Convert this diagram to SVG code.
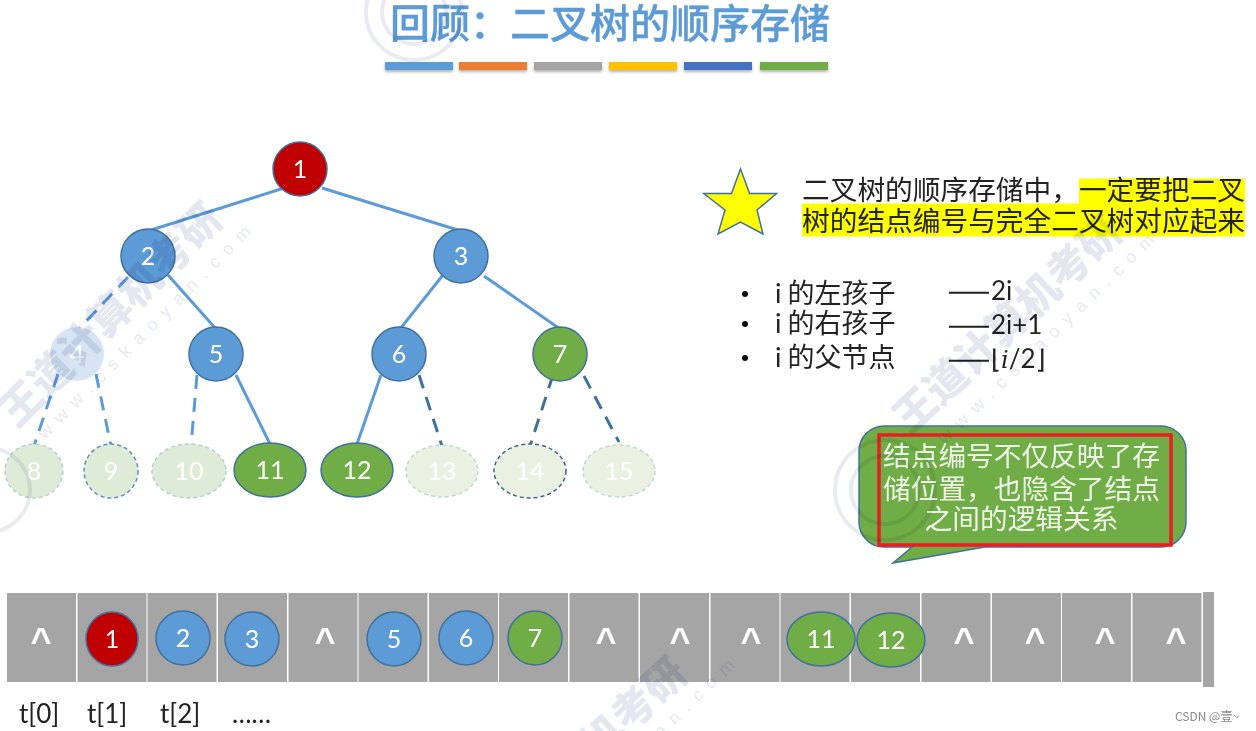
<svg xmlns="http://www.w3.org/2000/svg" width="1256" height="731" viewBox="0 0 1256 731">
<style>
text{font-family:"Noto Sans CJK SC","Noto Sans",sans-serif}
.lat{font-family:Lato,"Noto Sans",sans-serif}
.num{font-family:Lato,"Noto Sans",sans-serif;font-size:25px;fill:#fff;text-anchor:middle}
.blue{fill:#5b9bd5;stroke:#41719c;stroke-width:1.5}
.red{fill:#c00000;stroke:#41719c;stroke-width:1.5}
.green{fill:#70ad47;stroke:#41719c;stroke-width:1.5}
.s{fill:none;stroke:#5b9bd5;stroke-width:3}
.d{fill:none;stroke:#5b9bd5;stroke-width:3;stroke-dasharray:14 9}
.dk{fill:none;stroke:#41719c;stroke-width:3;stroke-dasharray:14 9}
.cell{fill:#a5a5a5}
.car{font-family:"Liberation Sans",sans-serif;font-weight:700;font-size:36px;fill:#fff;text-anchor:middle}
.body{font-size:27.7px;fill:#222}
.li{font-size:27px;fill:#222}
.da{font-size:25px;fill:#222;stroke:#222;stroke-width:.5;letter-spacing:1px}
.la{font-family:Lato,sans-serif;font-size:26px;fill:#222}
.co{font-size:27.7px;fill:#eef4e8;text-anchor:middle}
.wm{font-size:42px;font-weight:900;fill:#e4e7f0}
.wu{font-family:"Liberation Sans",sans-serif;font-size:18px;letter-spacing:9px;fill:#e6e9f1}
.st{fill:none;stroke:#e9ebf1;stroke-width:4}
</style>
<defs>
<filter id="soft" x="0" y="0" width="100%" height="100%"><feGaussianBlur stdDeviation="0.45"/></filter>
<filter id="sh" x="-10%" y="-30%" width="120%" height="190%"><feDropShadow dx="0" dy="2" stdDeviation="1.5" flood-color="#000" flood-opacity=".3"/></filter>
</defs>
<rect width="1256" height="731" fill="#fff"/>
<g filter="url(#soft)">
<g id="title">
<text x="390" y="38" font-size="40" font-weight="500" fill="#5b9bd5" stroke="#5b9bd5" stroke-width=".4">回顾：二叉树的顺序存储</text>
<g filter="url(#sh)">
<rect x="385" y="62" width="68" height="8" fill="#5b9bd5"/>
<rect x="459" y="62" width="68" height="8" fill="#ed7d31"/>
<rect x="534" y="62" width="68" height="8" fill="#a5a5a5"/>
<rect x="609" y="62" width="68" height="8" fill="#ffc000"/>
<rect x="684" y="62" width="68" height="8" fill="#4472c4"/>
<rect x="760" y="62" width="68" height="8" fill="#70ad47"/>
</g>
</g>
<g id="connectors">
<line class="s" x1="284" y1="188" x2="148" y2="231"/>
<line class="s" x1="322" y1="188" x2="461" y2="231"/>
<line class="d" x1="128" y1="277" x2="77" y2="331"/>
<line class="s" x1="168" y1="275" x2="216" y2="329"/>
<line class="s" x1="443" y1="275" x2="400" y2="329"/>
<line class="s" x1="484" y1="276" x2="560" y2="329"/>
<line class="d" x1="58" y1="374" x2="34" y2="446"/>
<line class="d" x1="96" y1="374" x2="111" y2="446"/>
<line class="d" x1="197" y1="375" x2="191" y2="446"/>
<line class="s" x1="236" y1="375" x2="270" y2="444"/>
<line class="s" x1="381" y1="375" x2="357" y2="444"/>
<line class="dk" x1="419" y1="375" x2="442" y2="446"/>
<line class="dk" x1="553" y1="375" x2="530" y2="446"/>
<line class="dk" x1="584" y1="376" x2="619" y2="442"/>
</g>
<g id="n1"><ellipse class="red" cx="300" cy="169" rx="27" ry="27"/><text class="num" x="300" y="178">1</text></g>
<g id="n2"><ellipse class="blue" cx="148" cy="256" rx="27" ry="27"/><text class="num" x="148" y="265">2</text></g>
<g id="n3"><ellipse class="blue" cx="461" cy="256" rx="27" ry="27"/><text class="num" x="461" y="265">3</text></g>
<g id="n4"><ellipse cx="77" cy="354" rx="27" ry="27" fill="#d6e4f3"/><text class="num" x="77" y="363">4</text></g>
<g id="n5"><ellipse class="blue" cx="216" cy="354" rx="27" ry="27"/><text class="num" x="216" y="363">5</text></g>
<g id="n6"><ellipse class="blue" cx="399" cy="354" rx="27" ry="27"/><text class="num" x="399" y="363">6</text></g>
<g id="n7"><ellipse class="green" cx="560" cy="354" rx="27" ry="27"/><text class="num" x="560" y="363">7</text></g>
<g id="n8"><ellipse cx="34" cy="471" rx="29" ry="27" fill="#deebd6" stroke="#b9d0cf" stroke-width="1.5" stroke-dasharray="4 3"/><text class="num" x="34" y="480">8</text></g>
<g id="n9"><ellipse cx="111" cy="471" rx="27" ry="27" fill="#deebd6" stroke="#5b8fc0" stroke-width="1.5" stroke-dasharray="4 3"/><text class="num" x="111" y="480">9</text></g>
<g id="n10"><ellipse cx="189" cy="471" rx="37" ry="27" fill="#deebd6" stroke="#b9d0cf" stroke-width="1.5" stroke-dasharray="4 3"/><text class="num" x="189" y="480">10</text></g>
<g id="n11"><ellipse class="green" cx="270" cy="470" rx="36" ry="27" stroke-width="2"/><text class="num" x="270" y="479">11</text></g>
<g id="n12"><ellipse class="green" cx="357" cy="470" rx="36" ry="27"/><text class="num" x="357" y="479">12</text></g>
<g id="n13"><ellipse cx="442" cy="471" rx="36" ry="26" fill="#e9f1e3" stroke="#c5d6d0" stroke-width="1.5" stroke-dasharray="4 3"/><text class="num" x="442" y="480">13</text></g>
<g id="n14"><ellipse cx="530" cy="471" rx="36" ry="27" fill="#e9f1e3" stroke="#41658f" stroke-width="1.5" stroke-dasharray="4 3"/><text class="num" x="530" y="480">14</text></g>
<g id="n15"><ellipse cx="619" cy="471" rx="36" ry="26" fill="#e9f1e3" stroke="#c5d6d0" stroke-width="1.5" stroke-dasharray="4 3"/><text class="num" x="619" y="480">15</text></g>
<g id="note">
<polygon points="740.5,169 749.6,193.6 776.6,193.6 757,210 763,234 740.5,222 718,234 725,210 703.7,193.6 731.5,193.6" fill="#ffff00" stroke="#41719c" stroke-width="1.5"/>
<rect x="1079" y="178.500" width="166" height="26" fill="#ffff00"/>
<rect x="802" y="203.500" width="443" height="33" fill="#ffff00"/>
<text class="body" x="802" y="200">二叉树的顺序存储中，一定要把二叉</text>
<text class="body" x="802" y="231">树的结点编号与完全二叉树对应起来</text>
</g>
<g id="list">
<circle cx="745" cy="294" r="3" fill="#111"/>
<circle cx="745" cy="324" r="3" fill="#111"/>
<circle cx="745" cy="358" r="3" fill="#111"/>
<text class="li" x="775" y="303"><tspan class="lat">i</tspan> 的左孩子</text>
<text class="li" x="775" y="333"><tspan class="lat">i</tspan> 的右孩子</text>
<text class="li" x="775" y="367"><tspan class="lat">i</tspan> 的父节点</text>
<text x="948" y="300"><tspan class="da">——</tspan><tspan class="lat" font-size="26" fill="#222">2i</tspan></text>
<text x="948" y="334"><tspan class="da">——</tspan><tspan class="lat" font-size="26" fill="#222">2i+1</tspan></text>
<text x="948" y="368"><tspan class="da">——</tspan><tspan font-family="DejaVu Sans" font-size="26" fill="#222">⌊</tspan><tspan font-family="DejaVu Serif" font-style="italic" font-size="24" fill="#222">i</tspan><tspan class="lat" font-size="26" fill="#222">/2</tspan><tspan font-family="DejaVu Sans" font-size="26" fill="#222">⌋</tspan></text>
</g>
<g id="callout">
<path d="M884,426H1161a25,25 0 0 1 25,25V522a25,25 0 0 1 -25,25H985L893,563L912,547H884a25,25 0 0 1 -25,-25V451a25,25 0 0 1 25,-25Z" fill="#70ad47" stroke="#41719c" stroke-width="1.5"/>
<rect x="879" y="435" width="292" height="110" fill="none" stroke="#ed1c24" stroke-width="3.5"/>
<text class="co" x="1021.500" y="466">结点编号不仅反映了存</text>
<text class="co" x="1021.500" y="499">储位置，也隐含了结点</text>
<text class="co" x="1021.500" y="529">之间的逻辑关系</text>
</g>
<g id="array">
<rect class="cell" x="7" y="593" width="69" height="89"/>
<rect class="cell" x="77.500" y="593" width="69" height="89"/>
<rect class="cell" x="147.500" y="593" width="69" height="89"/>
<rect class="cell" x="218" y="593" width="69" height="89"/>
<rect class="cell" x="288.500" y="593" width="69" height="89"/>
<rect class="cell" x="358.500" y="593" width="69" height="89"/>
<rect class="cell" x="429" y="593" width="69" height="89"/>
<rect class="cell" x="499" y="593" width="69" height="89"/>
<rect class="cell" x="569.500" y="593" width="69" height="89"/>
<rect class="cell" x="640" y="593" width="69" height="89"/>
<rect class="cell" x="710.500" y="593" width="69" height="89"/>
<rect class="cell" x="780.500" y="593" width="69" height="89"/>
<rect class="cell" x="851" y="593" width="69" height="89"/>
<rect class="cell" x="921.500" y="593" width="69" height="89"/>
<rect class="cell" x="992" y="593" width="69" height="89"/>
<rect class="cell" x="1062" y="593" width="69" height="89"/>
<rect class="cell" x="1132.500" y="593" width="69" height="89"/>
<rect class="cell" x="1203" y="592" width="11" height="95"/>
<text class="car" x="41" y="653">^</text>
<text class="car" x="325" y="653">^</text>
<text class="car" x="606" y="653">^</text>
<text class="car" x="680" y="653">^</text>
<text class="car" x="751" y="653">^</text>
<text class="car" x="964" y="653">^</text>
<text class="car" x="1035" y="653">^</text>
<text class="car" x="1105" y="653">^</text>
<text class="car" x="1176" y="653">^</text>
<g id="a1"><ellipse class="red" cx="112" cy="639" rx="26" ry="27"/><text class="num" x="112" y="648">1</text></g>
<g id="a2"><ellipse class="blue" cx="183" cy="638" rx="27" ry="27"/><text class="num" x="183" y="647">2</text></g>
<g id="a3"><ellipse class="blue" cx="252" cy="639" rx="27" ry="27"/><text class="num" x="252" y="648">3</text></g>
<g id="a5"><ellipse class="blue" cx="394" cy="639" rx="27" ry="27"/><text class="num" x="394" y="648">5</text></g>
<g id="a6"><ellipse class="blue" cx="466" cy="638" rx="27" ry="27"/><text class="num" x="466" y="647">6</text></g>
<g id="a7"><ellipse class="green" cx="535" cy="638" rx="27" ry="27"/><text class="num" x="535" y="647">7</text></g>
<g id="a11"><ellipse class="green" cx="821" cy="639" rx="34" ry="27"/><text class="num" x="821" y="648">11</text></g>
<g id="a12"><ellipse class="green" cx="891" cy="640" rx="34" ry="27"/><text class="num" x="891" y="649">12</text></g>
</g>
<g id="indices">
<text class="la" x="19" y="723">t[0]</text>
<text class="la" x="87" y="723">t[1]</text>
<text class="la" x="160" y="723">t[2]</text>
<text class="la" x="232" y="723">……</text>
</g>
<g id="watermark" style="mix-blend-mode:multiply">
<circle class="st" cx="414" cy="12" r="48"/><circle class="st" cx="414" cy="12" r="32"/>
<circle class="st" cx="885" cy="490" r="50"/><circle class="st" cx="885" cy="490" r="34"/>
<circle class="st" cx="-12" cy="490" r="42"/>
<text class="wm" transform="translate(17,429) rotate(-45)">王道计算机考研</text>
<text class="wm" transform="translate(910,435) rotate(-43)">王道计算机考研</text>
<text class="wm" transform="translate(475,877) rotate(-43)">王道计算机考研</text>
<text class="wu" transform="translate(45,440) rotate(-45)">www.cskaoyan.com</text>
<text class="wu" transform="translate(945,445) rotate(-44)">www.cskaoyan.com</text>
<text class="wu" transform="translate(525,870) rotate(-44)">www.cskaoyan.com</text>
</g>
</g>
<text id="credit" x="1175" y="721" font-size="12" fill="#8a8a8a">CSDN @壹~</text>
</svg>
